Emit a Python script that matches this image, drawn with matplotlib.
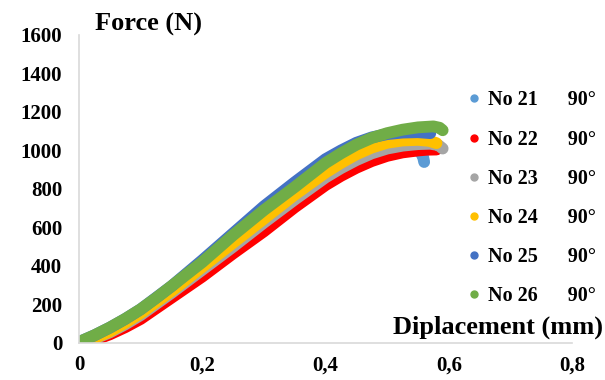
import matplotlib.pyplot as plt
from matplotlib.lines import Line2D

# displacement (mm) and force (N)
x_21 = [0, 0.025, 0.05, 0.075, 0.1, 0.15, 0.2, 0.25, 0.3, 0.35, 0.4, 0.45, 0.475, 0.5, 0.525, 0.54, 0.552, 0.558, 0.56]
f_21 = [0, 20, 50, 95, 150, 255, 370, 490, 610, 725, 840, 925, 957, 980, 997, 1003, 998, 970, 940]

x_22 = [0, 0.025, 0.05, 0.075, 0.1, 0.15, 0.2, 0.25, 0.3, 0.35, 0.4, 0.425, 0.45, 0.475, 0.5, 0.525, 0.55, 0.565, 0.58]
f_22 = [0, 15, 45, 82, 125, 235, 345, 465, 580, 705, 820, 868, 910, 945, 972, 990, 1000, 1004, 1005]

x_23 = [0, 0.025, 0.05, 0.075, 0.1, 0.15, 0.2, 0.25, 0.3, 0.35, 0.4, 0.425, 0.45, 0.475, 0.5, 0.525, 0.55, 0.57, 0.583, 0.59]
f_23 = [0, 22, 55, 97, 145, 260, 380, 500, 625, 745, 860, 908, 950, 985, 1010, 1025, 1033, 1035, 1028, 1010]

x_24 = [0, 0.025, 0.05, 0.075, 0.1, 0.15, 0.2, 0.25, 0.3, 0.35, 0.4, 0.425, 0.45, 0.475, 0.5, 0.525, 0.55, 0.568, 0.58]
f_24 = [0, 25, 60, 105, 155, 270, 395, 520, 645, 770, 885, 935, 980, 1015, 1040, 1052, 1055, 1050, 1038]

x_25 = [0, 0.025, 0.05, 0.075, 0.1, 0.15, 0.2, 0.25, 0.3, 0.35, 0.4, 0.425, 0.45, 0.475, 0.5, 0.525, 0.55, 0.57]
f_25 = [5, 40, 80, 125, 175, 295, 430, 570, 710, 835, 955, 1000, 1040, 1068, 1085, 1093, 1095, 1090]

x_26 = [0, 0.025, 0.05, 0.075, 0.1, 0.125, 0.15, 0.2, 0.25, 0.3, 0.35, 0.4, 0.425, 0.45, 0.475, 0.5, 0.525, 0.55, 0.575, 0.585, 0.59]
f_26 = [5, 40, 80, 125, 175, 233, 295, 420, 560, 690, 810, 935, 985, 1030, 1065, 1090, 1108, 1120, 1125, 1118, 1105]

names = ["No 21", "No 22", "No 23", "No 24", "No 25", "No 26"]
angle = "90°"
colors = ["#5B9BD5", "#FF0000", "#A5A5A5", "#FFC000", "#4472C4", "#70AD47"]

plt.rcParams['font.family'] = ['Liberation Serif', 'DejaVu Serif']
plt.rcParams['font.weight'] = 'bold'

fig = plt.figure(figsize=(6.05, 3.8), dpi=100)
ax = fig.add_axes([0.1306, 0.0974, 0.815, 0.8106])

series = [(x_21, f_21), (x_22, f_22), (x_23, f_23), (x_24, f_24), (x_25, f_25), (x_26, f_26)]
for (xs, fs), c in zip(series, colors):
  ax.plot(xs, fs, color=c, lw=8.5, solid_capstyle='round', solid_joinstyle='round')

ax.set_xlim(0, 0.8)
ax.set_ylim(0, 1600)
ax.set_xticks([0, 0.2, 0.4, 0.6, 0.8])
ax.set_xticklabels(["0", "0,2", "0,4", "0,6", "0,8"])
ax.set_yticks(range(0, 1601, 200))
ax.tick_params(length=0, labelsize=15)
ax.tick_params(axis='y', pad=12)
ax.tick_params(axis='x', pad=9)
for s in ['top', 'right']:
  ax.spines[s].set_visible(False)
for s in ['left', 'bottom']:
  ax.spines[s].set_color('#D9D9D9')
  ax.spines[s].set_linewidth(1.2)

fig.text(0.157, 0.935, "Force (N)", fontsize=19, fontweight='bold', va='center')
fig.text(0.997, 0.14, "Diplacement (mm)", fontsize=19, fontweight='bold', ha='right', va='center')

handles = [Line2D([], [], ls='', marker='o', ms=5, color=c) for c in colors]
labels = [f"{n}      {angle}" for n in names]
fig.legend(handles, labels, loc='upper left', bbox_to_anchor=(0.767, 0.762),
           frameon=False, fontsize=14.5, labelspacing=0.95, handletextpad=0.2,
           handlelength=1.0, borderaxespad=0, borderpad=0)

fig.savefig("out.png", dpi=100)
